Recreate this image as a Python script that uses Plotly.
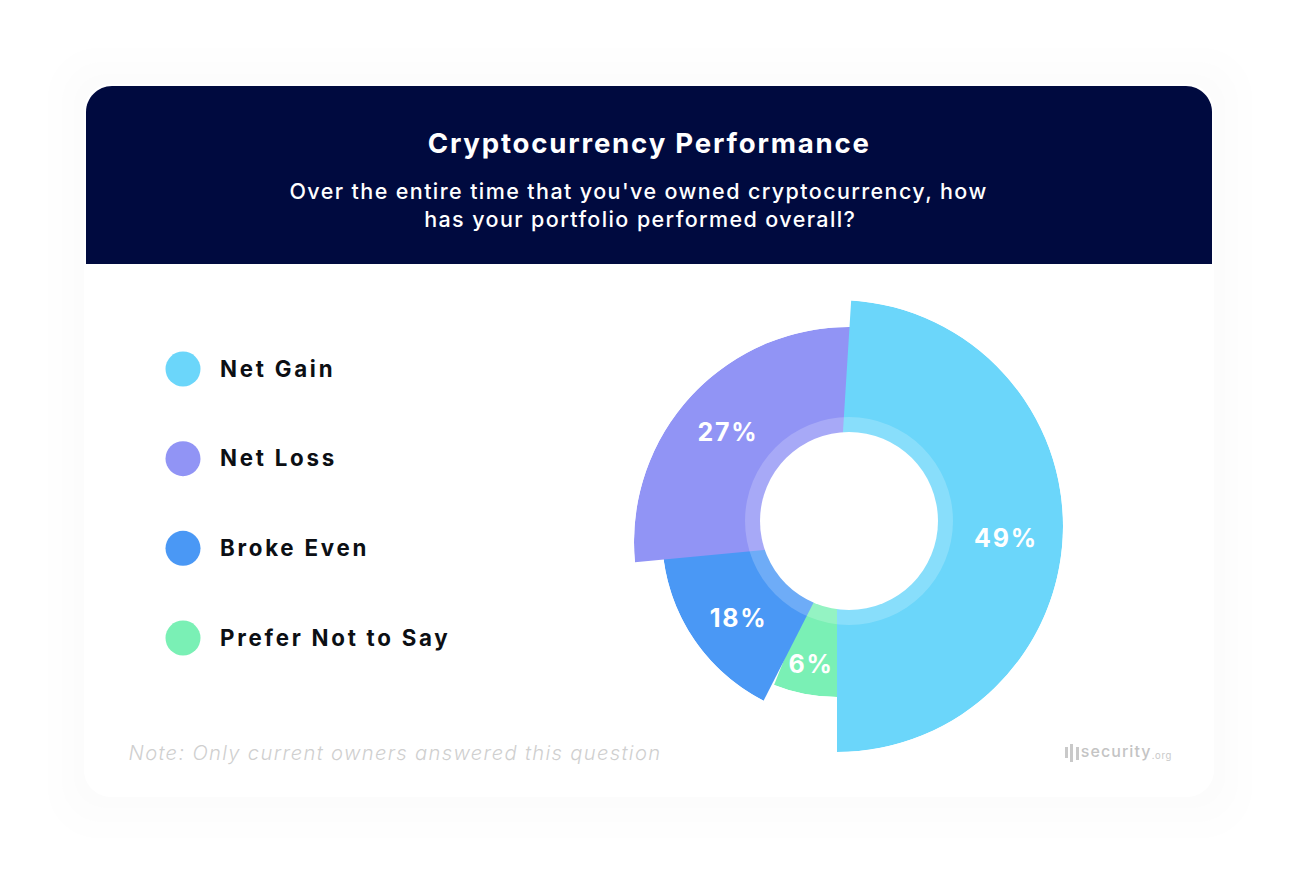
import plotly.graph_objects as go

W, H = 1299, 882
PAGE_MARGIN = 8  # browser default body margin

# Values
categories = ['Net Gain', 'Net Loss', 'Broke Even', 'Prefer Not to Say']
shares = [49, 27, 18, 6]
outer_radius = [226, 215, 186, 171]
start_angle = [3.6, 264.6, 207, 180]
colors = ['#6BD6FA', '#9194F5', '#4A98F5', '#7AF0B5']

# each slice sits on a slightly different centre in the original
centers = [(837, 526), (849, 542), (848, 535), (837, 526)]
label_r = [169.6, 161.5, 138.8, 142.8]
label_angle = [94.9, 311.5, 232, 190.5]

HOLE_C = (849, 521)


def px(x):
    return (x - PAGE_MARGIN) / W


def py(y):
    return 1 - (y - PAGE_MARGIN) / H


def corner(x0, y0, x1, y1, cx, cy):
    # quarter arc from (x0,y0) to (x1,y1) around the corner point (cx,cy)
    k = 0.55
    a = (x0 + (cx - x0) * k, y0 + (cy - y0) * k)
    b = (x1 + (cx - x1) * k, y1 + (cy - y1) * k)
    return f'C{px(a[0])},{py(a[1])} {px(b[0])},{py(b[1])} {px(x1)},{py(y1)} '


def rounded(x0, y0, x1, y1, r, bottom=True):
    p = f'M{px(x0)},{py(y0 + r)} ' + corner(x0, y0 + r, x0 + r, y0, x0, y0)
    p += f'L{px(x1 - r)},{py(y0)} ' + corner(x1 - r, y0, x1, y0 + r, x1, y0)
    if bottom:
        p += f'L{px(x1)},{py(y1 - r)} ' + corner(x1, y1 - r, x1 - r, y1, x1, y1)
        p += f'L{px(x0 + r)},{py(y1)} ' + corner(x0 + r, y1, x0, y1 - r, x0, y1) + 'Z'
    else:
        p += f'L{px(x1)},{py(y1)} L{px(x0)},{py(y1)} Z'
    return p


def card_shape(path, fill):
    return dict(type='path', path=path, xref='paper', yref='paper', fillcolor=fill,
                line_width=0, layer='below')


def circle(c, r, fill):
    return dict(type='circle', xref='paper', yref='paper', x0=px(c[0] - r), x1=px(c[0] + r),
                y0=py(c[1] + r), y1=py(c[1] - r), fillcolor=fill, line_width=0, layer='above')


fig = go.Figure()
layout_polars = {}

# draw order: green, blue, purple, then the big slice on top
order = [3, 2, 1, 0]
for n, i in enumerate(order):
    name = 'polar' if n == 0 else f'polar{n + 1}'
    width = shares[i] * 3.6
    fig.add_trace(go.Barpolar(r=[outer_radius[i]], theta=[start_angle[i] + width / 2], width=[width],
                              marker=dict(color=colors[i], line_width=0), subplot=name,
                              showlegend=False, hoverinfo='skip'))
    fig.add_trace(go.Scatterpolar(r=[label_r[i]], theta=[label_angle[i]], mode='text',
                                  text=[f'{shares[i]}%'], subplot=name, showlegend=False,
                                  cliponaxis=False,
                                  textfont=dict(family='Inter', size=25, color='white', weight=700)))
    cx, cy = centers[i]
    R = outer_radius[i]
    layout_polars[name] = dict(
        domain=dict(x=[px(cx - R), px(cx + R)], y=[py(cy + R), py(cy - R)]),
        bgcolor='rgba(0,0,0,0)',
        radialaxis=dict(visible=False, range=[0, R]),
        angularaxis=dict(visible=False, direction='clockwise', rotation=90),
    )

# legend dots and names
fig.add_trace(go.Scatter(x=[0] * 4, y=categories, mode='markers', showlegend=False, hoverinfo='skip',
                         cliponaxis=False, marker=dict(size=35, color=colors)))
fig.add_trace(go.Scatter(x=[1] * 4, y=categories, mode='text', text=categories, showlegend=False,
                         hoverinfo='skip', cliponaxis=False, textposition='middle right', yaxis='y2',
                         textfont=dict(family='Inter', size=22.3, color='#0C0F14', weight=700)))

shapes = [
    card_shape(rounded(48, 48, 1252, 838, 50), '#FEFEFE'),
    card_shape(rounded(62, 62, 1238, 822, 40), '#FDFDFD'),
    card_shape(rounded(74, 74, 1225, 808, 32), '#FCFCFC'),
    card_shape(rounded(84, 84, 1214, 797, 27), '#FFFFFF'),
    card_shape(rounded(86, 86, 1212, 264, 26, bottom=False), '#000A3F'),
    circle(HOLE_C, 104, 'rgba(255,255,255,0.2)'),
    circle(HOLE_C, 89, '#FFFFFF'),
]
# logo bars
for x, top, bottom in [(1065, 747, 758), (1070, 744, 762), (1076, 747, 760)]:
    shapes.append(dict(type='rect', xref='paper', yref='paper', x0=px(x), x1=px(x + 3), y0=py(bottom), y1=py(top),
                       fillcolor='#C9C9C9', line_width=0, layer='below'))


def note(text, x, y, size, color, family='Inter', weight=400, style='normal'):
    return dict(text=text, x=px(x), y=py(y), xref='paper', yref='paper', showarrow=False, xanchor='center',
                yanchor='middle', font=dict(family=family, size=size, color=color, weight=weight, style=style))


annotations = [
    note('Cryptocurrency Performance', 649, 143, 27.6, 'white', weight=700),
    note('Over the entire time that you\'ve owned cryptocurrency, how', 638.5, 191, 21.5, 'white', weight=500),
    note('has your portfolio performed overall?', 639.5, 219, 21.5, 'white', weight=500),
    note('Note: Only current owners answered this question', 394.5, 752, 20.2, '#CFCFCF',
         style='italic', weight=300),
    note('security', 1116, 751, 16, '#C4C4C4', weight=500),
    note('.org', 1162, 755, 9.5, '#C9C9C9'),
]

fig.update_layout(
    width=W, height=H,
    margin=dict(l=0, r=0, t=0, b=0),
    paper_bgcolor='white', plot_bgcolor='rgba(0,0,0,0)',
    xaxis=dict(visible=False, domain=[px(183), px(220)], range=[0, 1]),
    yaxis=dict(visible=False, domain=[py(638), py(369)], type='category',
               categoryorder='array', categoryarray=categories, range=[3, 0]),
    yaxis2=dict(visible=False, domain=[py(640), py(371)], type='category', anchor='x',
                categoryorder='array', categoryarray=categories, range=[3, 0]),
    shapes=shapes, annotations=annotations,
    **layout_polars,
)

# the original type is wider than anything installed, so open up the tracking
spacing = """
var s = document.createElement('style');
s.textContent = '.annotation-text {letter-spacing: .065em} '
  + '.cartesianlayer text {letter-spacing: .123em} '
  + '.polarlayer text {letter-spacing: .07em}';
document.head.appendChild(s);
"""
fig.write_html("out.html", post_script=spacing)
